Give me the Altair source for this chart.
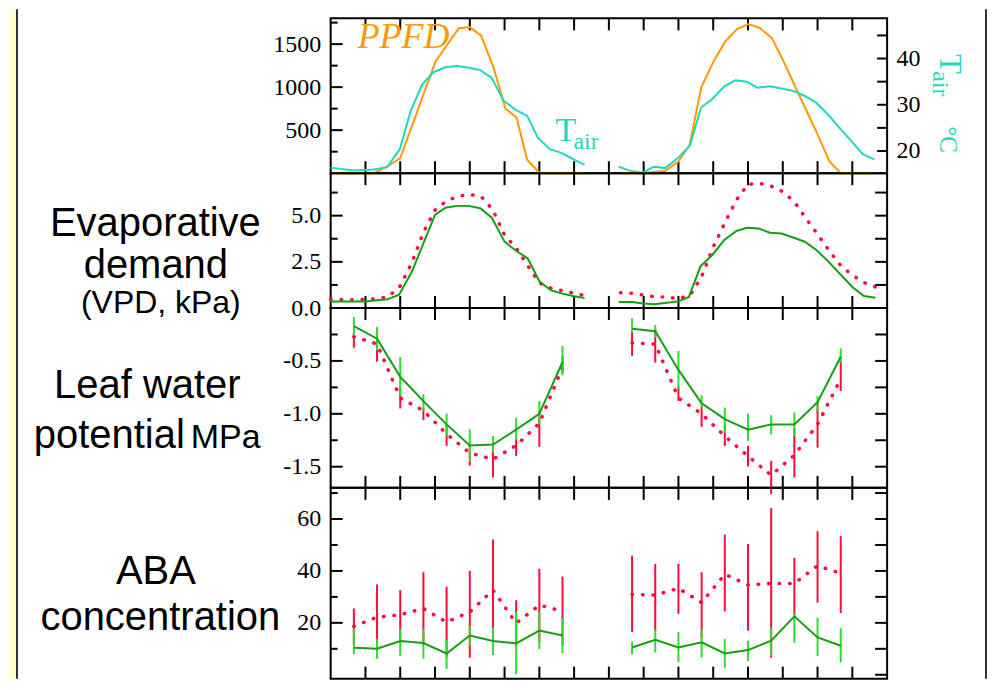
import altair as alt
import pandas as pd

# ---------------- data ----------------
# Panel 1: PPFD (left axis) and air temperature (right axis)
PPFD_D1_H = [0, 3.7, 4.9, 6.0, 9.05, 10.05, 11.06, 12.0, 12.98, 14.07, 15.08, 16.03, 16.95, 18.04, 21.9]
PPFD_D1 = [0, 0, 78, 175, 1299, 1493, 1686, 1698, 1598, 1221, 749, 648, 156, 0, 0]
PPFD_D2_H = [25, 27, 28.87, 30.0, 30.97, 31.97, 33.03, 34.04, 35.05, 36.05, 37.05, 38.06, 39.07, 40.2, 41.08, 42.08, 43.03, 44.0, 46.8]
PPFD_D2 = [0, 0, 28, 136, 330, 997, 1299, 1531, 1675, 1733, 1686, 1570, 1299, 970, 717, 427, 136, 0, 0]

TAIR_D1_H = [0, 2.0, 3.73, 4.88, 5.97, 6.89, 7.9, 8.9, 9.9, 10.9, 11.9, 12.9, 13.9, 14.9, 15.9, 16.95, 17.87, 18.9, 19.9, 20.97, 21.9]
TAIR_D1 = [16.4, 15.8, 16.0, 16.5, 20.4, 28.6, 34.4, 37.1, 38.1, 38.4, 38.0, 37.5, 35.8, 30.9, 29.0, 27.6, 22.9, 20.4, 19.6, 18.2, 17.0]
TAIR_D2_H = [24.85, 25.85, 26.95, 27.86, 28.87, 30.0, 31.0, 31.95, 32.9, 33.95, 34.9, 35.9, 36.8, 37.9, 38.9, 39.9, 40.9, 41.9, 42.9, 43.9, 44.9, 45.9, 46.9]
TAIR_D2 = [16.6, 15.7, 15.3, 16.6, 16.3, 18.6, 21.2, 29.4, 31.2, 34.0, 35.3, 35.0, 33.7, 34.0, 33.5, 33.0, 31.9, 30.4, 27.9, 25.0, 22.2, 19.3, 18.2]

# Panel 2: VPD (kPa)
VPD_G_D1_H = [0, 2.9, 4.9, 5.9, 7.0, 8.0, 9.0, 9.9, 10.9, 11.9, 12.9, 13.9, 15.0, 15.9, 17.0, 18.0, 19.0, 20.0, 21.0, 21.9]
VPD_G_D1 = [0.36, 0.36, 0.47, 0.72, 1.96, 3.5, 5.04, 5.43, 5.53, 5.53, 5.4, 4.89, 3.59, 3.14, 2.68, 1.45, 0.96, 0.78, 0.64, 0.54]
VPD_G_D2_H = [24.85, 26, 27, 27.9, 29, 30, 30.9, 31.9, 32.9, 33.95, 35, 35.9, 36.9, 37.9, 38.9, 39.9, 40.9, 41.9, 42.9, 43.9, 45, 46, 47]
VPD_G_D2 = [0.33, 0.33, 0.24, 0.2, 0.29, 0.36, 0.6, 2.26, 2.86, 3.68, 4.17, 4.35, 4.31, 4.08, 4.03, 3.82, 3.59, 3.14, 2.54, 1.87, 1.14, 0.65, 0.56]
VPD_R_D1_H = list(range(0, 23))
VPD_R_D1 = [0.47, 0.46, 0.45, 0.47, 0.5, 0.62, 1.2, 2.45, 4.1, 5.3, 5.8, 6.05, 6.15, 6.03, 5.3, 3.95, 3.25, 2.3, 1.35, 1.08, 0.94, 0.8, 0.66]
VPD_R_D2_H = list(range(25, 48))
VPD_R_D2 = [0.83, 0.8, 0.7, 0.6, 0.6, 0.5, 0.7, 1.7, 3.3, 4.6, 5.85, 6.7, 6.75, 6.6, 6.3, 5.75, 4.85, 4.0, 3.1, 2.3, 1.78, 1.38, 1.14]

# Sampling times for leaf water potential and ABA
SAMPLE_D1_H = [2, 4, 6, 8, 10, 12, 14, 16, 18, 20]
SAMPLE_D2_H = [26, 28, 30, 32, 34, 36, 38, 40, 42, 44]

# Panel 3: leaf water potential (MPa)
LWP_G_D1 = [-0.17, -0.29, -0.65, -0.88, -1.10, -1.30, -1.29, -1.15, -1.00, -0.51]
LWP_G_D1_HI = [-0.085, -0.18, -0.463, -0.815, -0.998, -1.146, -1.209, -1.036, -0.878, -0.359]
LWP_G_D1_LO = [-0.264, -0.40, -0.831, -0.973, -1.209, -1.451, -1.366, -1.249, -1.098, -0.633]
LWP_R_D1 = [-0.27, -0.34, -0.85, -0.97, -1.19, -1.37, -1.43, -1.30, -1.09, -0.56]
LWP_R_D1_HI = [-0.233, -0.201, -0.75, -0.941, -1.098, -1.287, -1.319, -1.225, -0.973, -0.453]
LWP_R_D1_LO = [-0.375, -0.507, -0.95, -1.06, -1.303, -1.49, -1.602, -1.398, -1.313, -0.611]
LWP_G_D2 = [-0.195, -0.22, -0.585, -0.90, -1.05, -1.15, -1.10, -1.10, -0.89, -0.46]
LWP_G_D2_HI = [-0.098, -0.16, -0.406, -0.825, -0.941, -0.998, -1.013, -0.988, -0.831, -0.381]
LWP_G_D2_LO = [-0.233, -0.28, -0.768, -0.941, -1.177, -1.256, -1.193, -1.209, -0.973, -0.516]
LWP_R_D2 = [-0.33, -0.34, -0.85, -1.00, -1.21, -1.40, -1.58, -1.39, -1.10, -0.67]
LWP_R_D2_HI = [-0.217, -0.201, -0.746, -0.925, -1.098, -1.303, -1.445, -1.13, -0.878, -0.50]
LWP_R_D2_LO = [-0.453, -0.516, -0.878, -1.124, -1.303, -1.498, -1.76, -1.602, -1.319, -0.784]

# Panel 4: ABA concentration
ABA_G_D1 = [10.4, 10.0, 13.0, 12.2, 8.2, 15.1, 13.0, 12.1, 17.0, 15.1]
ABA_G_D1_HI = [17.7, 13.8, 17.7, 17.7, 13.5, 19.0, 18.3, 24.2, 24.4, 21.8]
ABA_G_D1_LO = [7.9, 6.2, 7.3, 6.2, 2.3, 11.2, 7.6, 0.2, 9.9, 8.3]
ABA_R_D1 = [18.6, 22.2, 23.1, 25.5, 20.3, 24.2, 32.6, 19.9, 26.8, 24.5]
ABA_R_D1_HI = [25.5, 34.8, 32.6, 39.5, 33.9, 40.0, 52.1, 28.7, 40.8, 37.8]
ABA_R_D1_LO = [11.7, 9.6, 13.6, 11.5, 6.7, 6.6, 13.1, 11.1, 12.8, 11.2]
ABA_G_D2 = [10.5, 13.5, 10.5, 12.5, 8.2, 9.5, 13.1, 22.5, 14.4, 11.2]
ABA_G_D2_HI = [12.7, 17.4, 16.4, 17.7, 13.8, 13.1, 18.3, 23.5, 22.0, 17.9]
ABA_G_D2_LO = [7.9, 8.6, 4.9, 6.6, 2.7, 5.3, 7.3, 12.3, 7.3, 4.7]
ABA_R_D2 = [30.9, 30.7, 33.3, 27.8, 38.7, 34.6, 35.2, 35.2, 42.0, 39.1]
ABA_R_D2_HI = [45.9, 42.7, 42.7, 39.5, 54.0, 50.4, 64.2, 45.0, 55.3, 53.4]
ABA_R_D2_LO = [16.4, 17.0, 23.5, 14.4, 24.4, 17.0, 6.6, 22.9, 27.8, 23.8]

# Axis ticks / labels
XTICK_HOURS = list(range(3, 48, 3))
PPFD_LABELS = [500, 1000, 1500]
PPFD_MINOR = [250, 750, 1250, 1750]
TAIR_LABELS = [20, 30, 40]
TAIR_TICKS = [20, 25, 30, 35, 40, 45]
VPD_LABELS = [0.0, 2.5, 5.0]
VPD_MINOR = [1.25, 3.75, 6.25]
VPD_RIGHT = [1.25, 2.5, 3.75, 5.0, 6.25]
LWP_LABELS = [-0.5, -1.0, -1.5]
LWP_MINOR = [-0.25, -0.75, -1.25]
LWP_RIGHT = [-0.25, -0.5, -0.75, -1.0, -1.25, -1.5]
ABA_LABELS = [20, 40, 60]
ABA_MINOR = [10, 30, 50, 70]
ABA_RIGHT = [0, 10, 20, 30, 40, 50, 60, 70]

# ---------------- styling ----------------
W = 557
H1, H2, H3, H4 = 155, 135, 180, 191
DOM_PPFD = [0, 1800]
DOM_TAIR = [15.2, 48.7]
DOM_VPD = [0, 7.3]
DOM_LWP = [-1.7, 0]
DOM_ABA = [-1.5, 72]

ORANGE = "#FF9900"
CYAN = "#1FD8C0"
GREEN = "#14A014"
GREEN_BAR = "#2EDD2E"
RED = "#FF0A3C"
YELLOW = "#FFFFCC"
SERIF = "Liberation Serif"
SANS = "Liberation Sans"
TICKFONT = 24
BIG = 40

ONE = pd.DataFrame({"k": [0]})


def xenc():
    return alt.X("hour:Q", scale=alt.Scale(domain=[0, 48], nice=False, zero=False), axis=None)


def yenc(field, dom, axis=None):
    return alt.Y(f"{field}:Q", scale=alt.Scale(domain=dom, nice=False, zero=False), axis=axis)


def series(parts):
    rows = []
    for day, (hs, vs) in enumerate(parts):
        for h, v in zip(hs, vs):
            rows.append({"hour": h, "value": v, "day": day})
    return pd.DataFrame(rows)


def bars(parts):
    rows = []
    for hs, lo, hi in parts:
        for h, a, b in zip(hs, lo, hi):
            rows.append({"hour": h, "lo": a, "hi": b})
    return pd.DataFrame(rows)


def line(df, dom, color, dotted=False, width=2):
    if dotted:
        mk = alt.Chart(df).mark_line(color=color, strokeWidth=3.5, strokeDash=[0.5, 10], strokeCap="round")
    else:
        mk = alt.Chart(df).mark_line(color=color, strokeWidth=width)
    return mk.encode(x=xenc(), y=yenc("value", dom), detail="day:N")


def errbars(df, dom, color):
    return alt.Chart(df).mark_rule(color=color, strokeWidth=2).encode(
        x=xenc(), y=yenc("lo", dom), y2="hi:Q")


def xticks(h):
    d = pd.DataFrame({"hour": XTICK_HOURS})
    top = alt.Chart(d).mark_rule(color="black", strokeWidth=2).encode(
        x=xenc(), y=alt.value(0), y2=alt.value(12))
    bot = alt.Chart(d).mark_rule(color="black", strokeWidth=2).encode(
        x=xenc(), y=alt.value(h - 12), y2=alt.value(h))
    return [top, bot]


def yticks(vals, dom, side, length, axis=None):
    d = pd.DataFrame({"v": vals})
    x0, x1 = (0, length) if side == "left" else (W - length, W)
    return alt.Chart(d).mark_rule(color="black", strokeWidth=2).encode(
        y=yenc("v", dom, axis), x=alt.value(x0), x2=alt.value(x1))


def label_axis(vals, orient, expr, pad=10):
    return alt.Axis(orient=orient, values=vals, ticks=False, domain=False, grid=False,
                    labelPadding=pad, labelFont=SERIF, labelFontSize=TICKFONT, labelColor="black",
                    title=None, labelExpr=expr)


def text(t, x, y, size, align="center", font=SANS, color="black", italic=False, angle=0):
    return alt.Chart(ONE).mark_text(
        text=t, align=align, baseline="alphabetic", font=font, fontSize=size, color=color,
        fontStyle="italic" if italic else "normal", angle=angle).encode(
        x=alt.value(x), y=alt.value(y))


def frame_rect(x0, x1, y0, y1, color):
    return alt.Chart(ONE).mark_rect(color=color).encode(
        x=alt.value(x0), x2=alt.value(x1), y=alt.value(y0), y2=alt.value(y1))


NUM_EXPR = "format(datum.value, 'd')"
DEC_EXPR = "datum.value < 0 ? '-' + format(-datum.value, '.1f') : format(datum.value, '.1f')"

# ---------------- panel 1 ----------------
TOTAL = H1 + H2 + H3 + H4
p1_layers = [
    frame_rect(-322, -315, -9, TOTAL, YELLOW),
    frame_rect(-315, -313, -9, TOTAL, "#333333"),
    frame_rect(655, 657, -9, TOTAL, "#333333"),
] + xticks(H1) + [
    yticks(PPFD_LABELS, DOM_PPFD, "left", 12, label_axis(PPFD_LABELS, "left", NUM_EXPR)),
    yticks(PPFD_MINOR, DOM_PPFD, "left", 7),
    yticks(TAIR_TICKS, DOM_TAIR, "right", 10, label_axis(TAIR_LABELS, "right", NUM_EXPR, pad=9)),
    line(series([(PPFD_D1_H, PPFD_D1), (PPFD_D2_H, PPFD_D2)]), DOM_PPFD, ORANGE),
    line(series([(TAIR_D1_H, TAIR_D1), (TAIR_D2_H, TAIR_D2)]), DOM_TAIR, CYAN),
    text("PPFD", 27, 30, 36, align="left", font=SERIF, color=ORANGE, italic=True),
    text("T", 225, 123, 34, align="left", font=SERIF, color=CYAN),
    text("air", 243, 131, 24, align="left", font=SERIF, color=CYAN),
    text("T", 610, 36, 32, align="left", font=SERIF, color=CYAN, angle=90),
    text("air", 603, 53, 24, align="left", font=SERIF, color=CYAN, angle=90),
    text("°C", 610, 108, 25, align="left", font=SERIF, color=CYAN, angle=90),
]
p1 = alt.layer(*p1_layers).resolve_scale(y="independent").properties(width=W, height=H1)

# ---------------- panel 2 ----------------
p2_layers = xticks(H2) + [
    yticks(VPD_LABELS, DOM_VPD, "left", 12, label_axis(VPD_LABELS, "left", DEC_EXPR)),
    yticks(VPD_MINOR, DOM_VPD, "left", 7),
    yticks(VPD_RIGHT, DOM_VPD, "right", 12),
    line(series([(VPD_R_D1_H, VPD_R_D1), (VPD_R_D2_H, VPD_R_D2)]), DOM_VPD, RED, dotted=True),
    line(series([(VPD_G_D1_H, VPD_G_D1), (VPD_G_D2_H, VPD_G_D2)]), DOM_VPD, GREEN),
    text("Evaporative", -175.5, 63, BIG),
    text("demand", -175, 105, BIG),
    text("(VPD, kPa)", -170, 140, 32),
]
p2 = alt.layer(*p2_layers).resolve_scale(y="independent").properties(width=W, height=H2)

# ---------------- panel 3 ----------------
p3_layers = xticks(H3) + [
    yticks(LWP_LABELS, DOM_LWP, "left", 12, label_axis(LWP_LABELS, "left", DEC_EXPR)),
    yticks(LWP_MINOR, DOM_LWP, "left", 7),
    yticks(LWP_RIGHT, DOM_LWP, "right", 12),
    errbars(bars([(SAMPLE_D1_H, LWP_R_D1_LO, LWP_R_D1_HI), (SAMPLE_D2_H, LWP_R_D2_LO, LWP_R_D2_HI)]), DOM_LWP, RED),
    line(series([(SAMPLE_D1_H, LWP_R_D1), (SAMPLE_D2_H, LWP_R_D2)]), DOM_LWP, RED, dotted=True),
    errbars(bars([(SAMPLE_D1_H, LWP_G_D1_LO, LWP_G_D1_HI), (SAMPLE_D2_H, LWP_G_D2_LO, LWP_G_D2_HI)]), DOM_LWP, GREEN_BAR),
    line(series([(SAMPLE_D1_H, LWP_G_D1), (SAMPLE_D2_H, LWP_G_D2)]), DOM_LWP, GREEN),
    text("Leaf water", -183.5, 90, BIG),
    text("potential", -146, 140, BIG, align="right"),
    text("MPa", -140, 140, 34, align="left"),
]
p3 = alt.layer(*p3_layers).resolve_scale(y="independent").properties(width=W, height=H3)

# ---------------- panel 4 ----------------
p4_layers = xticks(H4) + [
    yticks(ABA_LABELS, DOM_ABA, "left", 12, label_axis(ABA_LABELS, "left", NUM_EXPR)),
    yticks(ABA_MINOR, DOM_ABA, "left", 7),
    yticks(ABA_RIGHT, DOM_ABA, "right", 12),
    errbars(bars([(SAMPLE_D1_H, ABA_R_D1_LO, ABA_R_D1_HI), (SAMPLE_D2_H, ABA_R_D2_LO, ABA_R_D2_HI)]), DOM_ABA, RED),
    line(series([(SAMPLE_D1_H, ABA_R_D1), (SAMPLE_D2_H, ABA_R_D2)]), DOM_ABA, RED, dotted=True),
    errbars(bars([(SAMPLE_D1_H, ABA_G_D1_LO, ABA_G_D1_HI), (SAMPLE_D2_H, ABA_G_D2_LO, ABA_G_D2_HI)]), DOM_ABA, GREEN_BAR),
    line(series([(SAMPLE_D1_H, ABA_G_D1), (SAMPLE_D2_H, ABA_G_D2)]), DOM_ABA, GREEN),
    text("ABA", -175, 96, BIG),
    text("concentration", -170.5, 142, BIG),
]
p4 = alt.layer(*p4_layers).resolve_scale(y="independent").properties(width=W, height=H4)

chart = alt.vconcat(p1, p2, p3, p4, spacing=0, bounds="flush").properties(
    padding=0, background="white"
).configure_view(stroke="black", strokeWidth=2)

chart.save("out.html", embed_options={"renderer": "svg", "actions": False})
